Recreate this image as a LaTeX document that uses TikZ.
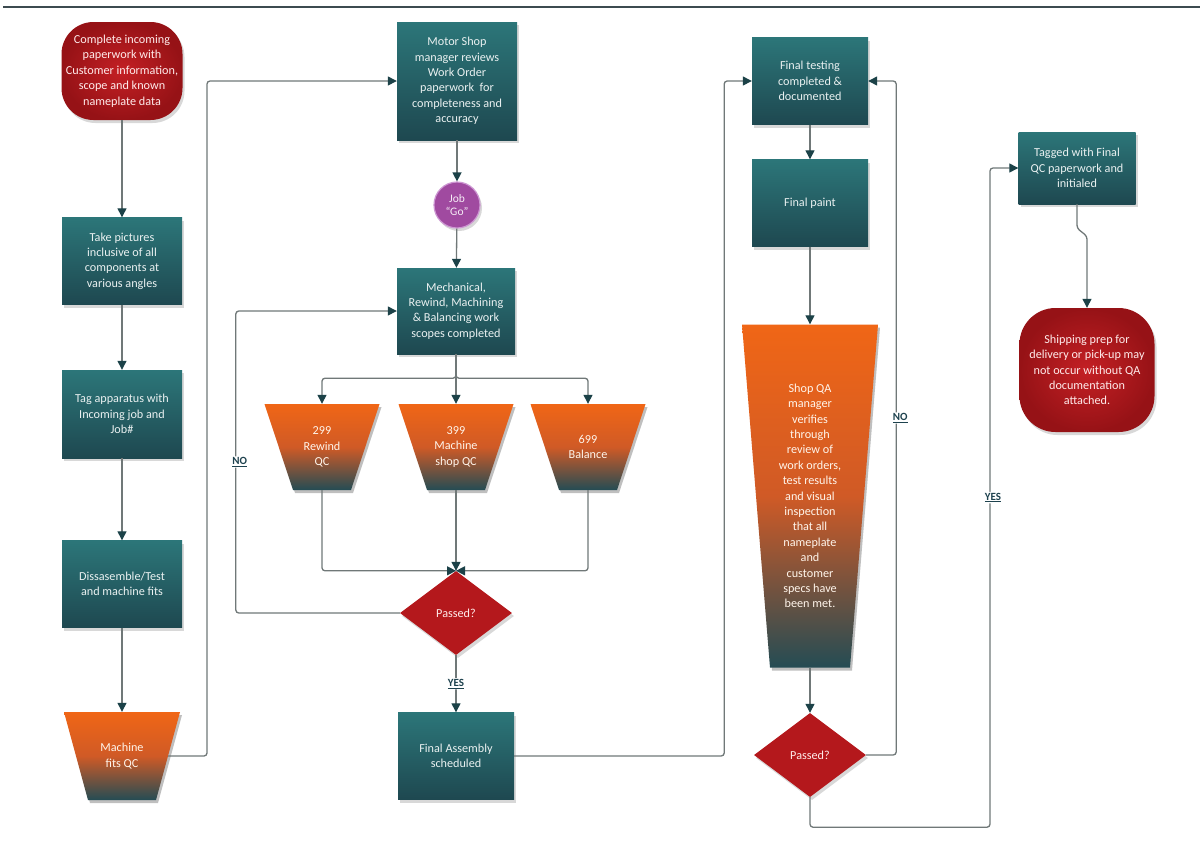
\documentclass[tikz,border=0pt]{standalone}
\usepackage{fontspec}
\setmainfont{Carlito}
\usetikzlibrary{arrows.meta,shapes.geometric,shadows,calc}

\definecolor{tealA}{RGB}{44,118,121}
\definecolor{tealB}{RGB}{30,72,80}
\definecolor{oranA}{RGB}{240,102,22}
\definecolor{oranM}{RGB}{208,90,38}
\definecolor{oranB}{RGB}{36,76,84}
\definecolor{redA}{RGB}{196,32,36}
\definecolor{redB}{RGB}{150,18,22}
\definecolor{redD}{RGB}{180,24,28}
\definecolor{purp}{RGB}{160,74,160}
\definecolor{purpL}{RGB}{205,150,210}
\definecolor{lineC}{RGB}{112,120,120}
\definecolor{tipC}{RGB}{28,66,72}
\definecolor{lblC}{RGB}{30,66,78}
\definecolor{ruleC}{RGB}{60,75,80}

\tikzset{
  txt/.style={font=\fontsize{12.2}{15.4}\selectfont, align=center, inner sep=2pt},
  shad/.style={drop shadow={shadow xshift=2pt, shadow yshift=-3pt, opacity=0.3}},
  procbox/.style={txt, rectangle, top color=tealA, bottom color=tealB, text=white!90!tealA, shad},
  termbox/.style={txt, rectangle, rounded corners=32pt, inner color=redA, outer color=redB, text=red!8!white, shad},
  decis/.style={txt, diamond, fill=redD, text=red!8!white, minimum width=112pt, minimum height=84pt, shad},
  qctxt/.style={txt, rectangle, text=orange!8!white},
  jobc/.style={circle, fill=purp, draw=purpL, line width=1.2pt, minimum size=46pt, inner sep=0pt, align=center, font=\fontsize{11.5}{13.5}\selectfont, text=purp!10!white, shad},
  conn/.style={draw=lineC, line width=1.3pt, rounded corners=3pt, -{Triangle[length=9pt,width=9pt,color=tipC]}},
  lbl/.style={font=\fontsize{11}{13}\selectfont\bfseries, text=lblC, fill=white, inner sep=1pt},
}

\newcommand\trapnode[7]{%
  \fill[black, opacity=0.25] ({#2-#4/2+2},{#3+#6/2-3}) -- ({#2+#4/2+2},{#3+#6/2-3}) -- ({#2+#5/2+2},{#3-#6/2-3}) -- ({#2-#5/2+2},{#3-#6/2-3}) -- cycle;
  \shade[top color=oranA, bottom color=oranB, middle color=oranM] ({#2-#4/2},{#3+#6/2}) -- ({#2+#4/2},{#3+#6/2}) -- ({#2+#5/2},{#3-#6/2}) -- ({#2-#5/2},{#3-#6/2}) -- cycle;
  \node[qctxt, minimum width=#4pt, minimum height=#6pt] (#1) at (#2,#3) {#7};
}

\begin{document}
\begin{tikzpicture}[x=1pt,y=1pt]
\useasboundingbox (0,0) rectangle (1202,-852);
\fill[white] (0,0) rectangle (1202,-852);
\draw[ruleC, line width=1.8pt] (3,-7) -- (1200,-7);

% column 1
\node[termbox, minimum width=121pt, minimum height=98pt] (start) at (122,-71)
  {Complete incoming\\paperwork with\\Customer information,\\scope and known\\nameplate data};
\node[procbox, minimum width=120pt, minimum height=87pt] (pics) at (122,-261)
  {Take pictures\\inclusive of all\\components at\\various angles};
\node[procbox, minimum width=120pt, minimum height=88pt] (tagapp) at (122,-414)
  {Tag apparatus with\\Incoming job and\\Job\#};
\node[procbox, minimum width=120pt, minimum height=87pt] (dis) at (122,-584)
  {Dissasemble/Test\\and machine fits};
\trapnode{mfqc}{122}{-756}{116}{68}{88}{Machine\\fits QC}
\coordinate (mfqcR) at (168,-756);

% column 2
\node[procbox, minimum width=120pt, minimum height=118pt] (motor) at (457,-81)
  {Motor Shop\\manager reviews\\Work Order\\paperwork\ \ for\\completeness and\\accuracy};
\node[jobc] (job) at (457,-205) {Job\\“Go”};
\node[procbox, minimum width=118pt, minimum height=86pt] (mech) at (456,-311)
  {Mechanical,\\Rewind, Machining\\\& Balancing work\\scopes completed};
\trapnode{qc1}{322}{-447}{115}{58}{86}{299\\Rewind\\QC}
\trapnode{qc2}{456}{-447}{115}{58}{86}{399\\Machine\\shop QC}
\trapnode{qc3}{588}{-447}{115}{58}{86}{699\\Balance}
\node[decis] (pass1) at (456,-613) {Passed?};
\node[procbox, minimum width=116pt, minimum height=87pt] (fa) at (456,-756)
  {Final Assembly\\scheduled};

% column 3
\node[procbox, minimum width=116pt, minimum height=87pt] (ft) at (810,-81)
  {Final testing\\completed \&\\documented};
\node[procbox, minimum width=116pt, minimum height=87pt] (fp) at (810,-203)
  {Final paint};
\trapnode{qa}{810}{-496}{136}{80}{343}{Shop QA\\manager\\verifies\\through\\review of\\work orders,\\test results\\and visual\\inspection\\that all\\nameplate\\and\\customer\\specs have\\been met.}
\node[decis] (pass2) at (810,-755) {Passed?};

% column 4
\node[procbox, minimum width=117pt, minimum height=72pt] (tagged) at (1077,-168)
  {Tagged with Final\\QC paperwork and\\initialed};
\node[termbox, rounded corners=36pt, minimum width=135pt, minimum height=124pt] (ship) at (1087,-370)
  {Shipping prep for\\delivery or pick-up may\\not occur without QA\\documentation\\attached.};

% connectors
\draw[conn] (start) -- (pics);
\draw[conn] (pics) -- (tagapp);
\draw[conn] (tagapp) -- (dis);
\draw[conn] (dis) -- (mfqc);
\draw[conn] (mfqcR) -- ++(39,0) |- (motor.west);
\draw[conn] (motor) -- (job);
\draw[conn] (job) -- (mech);
\draw[conn] (mech.south) -- ++(0,-24) -| (qc1.north);
\draw[conn] (mech.south) -- ++(0,-24) -| (qc3.north);
\draw[conn] (mech) -- (qc2);
\draw[conn] (qc1.south) |- (pass1.north);
\draw[conn] (qc3.south) |- (pass1.north);
\draw[conn] (qc2) -- (pass1);
\draw[conn] (pass1.west) -- ++(-164,0) |- node[lbl, pos=0.25, xshift=4pt] {\underline{NO}} (mech.west);
\draw[conn] (pass1) -- node[lbl] {\underline{YES}} (fa);
\draw[conn] (fa.east) -- ++(210,0) |- (ft.west);
\draw[conn] (ft) -- (fp);
\draw[conn] (fp) -- (qa);
\draw[conn] (qa) -- (pass2);
\draw[conn] (pass2.east) -- ++(30,0) |- node[lbl, pos=0.25, xshift=4pt] {\underline{NO}} (ft.east);
\draw[conn] (pass2.south) -- ++(0,-30) -- ++(180,0) |- node[lbl, pos=0.25, xshift=3pt] {\underline{YES}} (tagged.west);
\draw[conn] (tagged.south) -- ++(0,-24) -- ++(10,-8) -- (ship.north);
\end{tikzpicture}
\end{document}
